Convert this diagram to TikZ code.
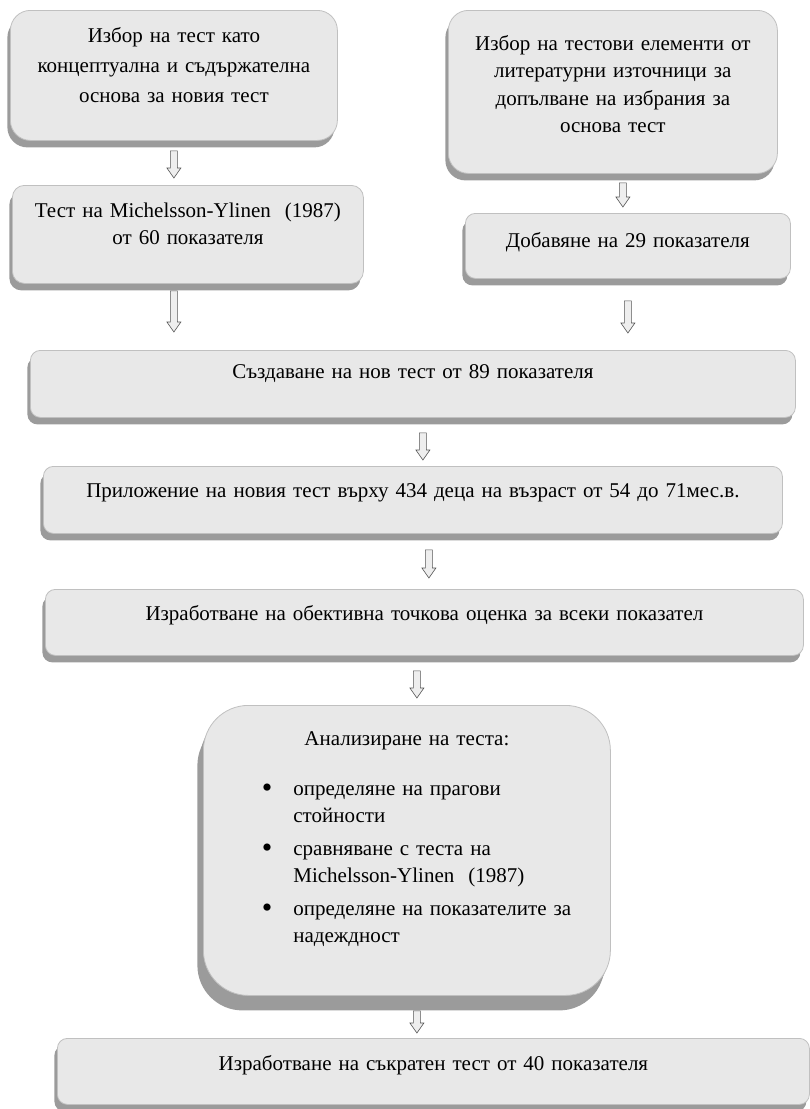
\documentclass[tikz,border=0pt]{standalone}
\usepackage{fontspec}
\setmainfont{Liberation Serif}
\usetikzlibrary{calc,shadows}
\definecolor{boxfill}{RGB}{232,232,232}
\definecolor{boxline}{RGB}{192,192,192}
\definecolor{shade}{RGB}{155,155,155}
\definecolor{arrline}{RGB}{85,85,85}
\definecolor{arrfill}{RGB}{238,238,238}
\newcommand{\tochka}{\makebox[31.5pt][l]{\fontsize{30}{30}\selectfont\raisebox{-2.5pt}{•}}}
\begin{document}
\begin{tikzpicture}[x=1pt, y=-1pt,
    box/.style={draw=boxline, fill=boxfill, line width=0.8pt, anchor=north west,
      align=center, inner xsep=6pt, text height=15pt,
      node font=\fontsize{21}{27.5}\selectfont,
      drop shadow={shadow xshift=-3pt, shadow yshift=-7pt, fill=shade, opacity=1}},
    hollow/.style={draw=arrline, fill=arrfill, line width=0.6pt, to path={
      let \p1=(\tikztostart), \p2=(\tikztotarget) in
      (\x1-3.5pt,\y1) -- (\x1-3.5pt,\y2+10pt) -- (\x1-7pt,\y2+10pt) -- (\x2,\y2)
      -- (\x1+7pt,\y2+10pt) -- (\x1+3.5pt,\y2+10pt) -- (\x1+3.5pt,\y1) -- cycle}}]
  \useasboundingbox (0,0) rectangle (809,1109);
  % горен ред: две колони
  \node[box, rounded corners=20pt, text width=315pt, inner ysep=17pt, text depth=81pt,
    node font=\fontsize{21}{30}\selectfont] (izbor) at (10,10)
    {Избор на тест като\\концептуална и съдържателна\\основа за новия тест};
  \node[box, rounded corners=20pt, text width=317pt, inner ysep=25pt, text depth=98pt] (elem) at (448,10)
    {Избор на тестови елементи от\\литературни източници за\\допълване на избрания за\\основа тест};
  \node[box, rounded corners=12pt, text width=339pt, inner ysep=17pt, text depth=49pt,
    node font=\fontsize{21}{27}\selectfont] (mich) at (12,185)
    {Тест на Michelsson-Ylinen\ \ (1987)\\от 60 показателя};
  \node[box, rounded corners=10pt, text width=313pt, inner ysep=19pt, text depth=12pt] (dobav) at (465,213)
    {Добавяне на 29 показателя};
  % широки кутии
  \node[box, rounded corners=10pt, text width=753pt, inner ysep=13pt, text depth=26pt] (nov) at (30,350)
    {Създаване на нов тест от 89 показателя};
  \node[box, rounded corners=10pt, text width=727pt, inner ysep=16pt, text depth=20pt] (prilozh) at (43,466)
    {Приложение на новия тест върху 434 деца на възраст от 54 до 71мес.в.};
  \node[box, rounded corners=10pt, text width=746pt, inner ysep=16pt, text depth=19pt] (ocenka) at (45,589)
    {Изработване на обективна точкова оценка за всеки показател};
  % анализ
  \node[box, rounded corners=45pt, align=left, text width=380pt, inner xsep=13.5pt,
    inner ysep=25pt, text depth=225pt,
    drop shadow={shadow xshift=-6pt, shadow yshift=-15pt, fill=shade, opacity=1}] (analiz) at (203,705)
    {\makebox[380pt]{Анализиране на теста:}\\[22.5pt]
     \hspace*{45pt}\tochka определяне на прагови\\
     \hspace*{76.5pt}стойности\\[5pt]
     \hspace*{45pt}\tochka сравняване с теста на\\
     \hspace*{76.5pt}Michelsson-Ylinen\ \ (1987)\\[5pt]
     \hspace*{45pt}\tochka определяне на показателите за\\
     \hspace*{76.5pt}надеждност};
  \node[box, rounded corners=10pt, text width=740pt, inner ysep=17pt, text depth=17pt] (skrat) at (57,1038)
    {Изработване на съкратен тест от 40 показателя};
  % стрелки
  \draw[hollow] ($(izbor.south)+(0,10)$) to ($(izbor.south |- mich.north)+(0,-7)$);
  \draw[hollow] ($(izbor.south |- mich.south)+(0,7)$) to ($(izbor.south |- nov.north)+(0,-18)$);
  \draw[hollow] ($(elem.south)+(10,9)$) to ($(elem.south |- dobav.north)+(10,-6)$);
  \draw[hollow] ($(dobav.south)+(0,22)$) to ($(dobav.south |- nov.north)+(0,-17)$);
  \draw[hollow] ($(nov.south)+(10,15)$) to ($(nov.south |- prilozh.north)+(10,-6)$);
  \draw[hollow] ($(prilozh.south)+(16,16)$) to ($(prilozh.south |- ocenka.north)+(16,-11)$);
  \draw[hollow] ($(analiz.north |- ocenka.south)+(10,15)$) to ($(analiz.north)+(10,-7)$);
  \draw[hollow] ($(analiz.south)+(10,15)$) to ($(analiz.south |- skrat.north)+(10,-5)$);
\end{tikzpicture}
\end{document}
